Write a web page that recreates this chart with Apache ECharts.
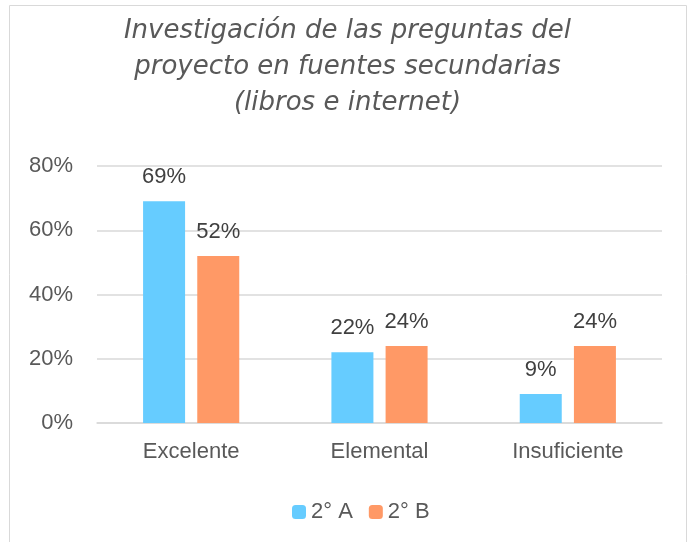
<!DOCTYPE html>
<html>
<head>
<meta charset="utf-8">
<script src="https://cdn.jsdelivr.net/npm/echarts@6/dist/echarts.min.js"></script>
<style>
  html, body { margin: 0; padding: 0; background: #fff; }
  #chart { width: 695px; height: 542px; }
</style>
</head>
<body>
<div id="chart"></div>
<script>
// datos
const categorias = ['Excelente', 'Elemental', 'Insuficiente'];
const grupoA = [69, 22, 9];
const grupoB = [52, 24, 24];
const ticksY = [0, 20, 40, 60, 80];

const fuente = '"Liberation Sans", Arial, sans-serif';

const chart = echarts.init(document.getElementById('chart'));

const etiqueta = {
  show: true,
  position: 'top',
  distance: 13,
  formatter: '{c}%',
  fontSize: 22,
  color: '#404040',
  fontFamily: fuente
};

const option = {
  animation: false,
  title: {
    text: 'Investigación de las preguntas del\nproyecto en fuentes secundarias\n(libros e internet)',
    left: 'center',
    top: 8,
    textStyle: {
      fontSize: 26,
      fontStyle: 'italic',
      fontWeight: 'normal',
      lineHeight: 36,
      color: '#595959',
      fontFamily: '"DejaVu Sans", sans-serif'
    }
  },
  graphic: [{
    type: 'rect',
    shape: { x: 9.5, y: 5.5, width: 677, height: 560 },
    style: { fill: 'none', stroke: '#d9d9d9', lineWidth: 1 },
    silent: true
  }],
  legend: {
    top: 496,
    left: 287,
    itemWidth: 14,
    itemHeight: 14,
    itemGap: 16,
    textStyle: { fontSize: 22, color: '#595959', fontFamily: fuente },
    data: ['2° A', '2° B']
  },
  grid: {
    left: 97,
    right: 33,
    top: 166,
    bottom: 119
  },
  xAxis: {
    type: 'category',
    data: categorias,
    axisLine: { lineStyle: { color: '#d9d9d9', width: 1.5 } },
    axisTick: { show: false },
    axisLabel: { fontSize: 22, color: '#595959', margin: 18, fontFamily: fuente }
  },
  yAxis: {
    type: 'value',
    min: ticksY[0],
    max: ticksY[ticksY.length - 1],
    interval: 20,
    axisLine: { show: false },
    axisTick: { show: false },
    axisLabel: { fontSize: 22, color: '#595959', margin: 24, formatter: '{value}%', fontFamily: fuente },
    splitLine: { lineStyle: { color: '#d9d9d9', width: 1.5 } }
  },
  series: [
    {
      name: '2° A',
      type: 'bar',
      data: grupoA,
      barWidth: 42,
      barGap: '29%',
      itemStyle: { color: '#66CCFF' },
      label: etiqueta
    },
    {
      name: '2° B',
      type: 'bar',
      data: grupoB,
      barWidth: 42,
      itemStyle: { color: '#FF9966' },
      label: etiqueta
    }
  ]
};

chart.setOption(option);
</script>
</body>
</html>
